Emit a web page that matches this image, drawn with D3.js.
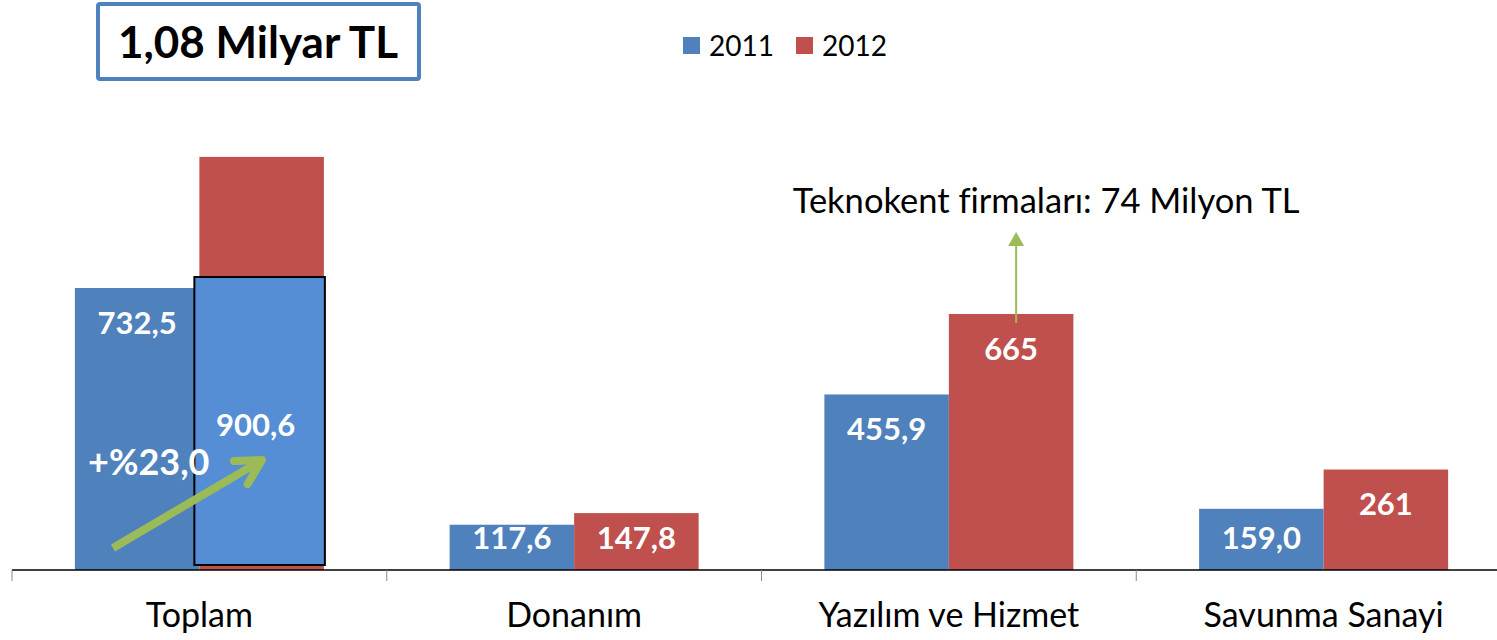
<!DOCTYPE html>
<html lang="tr">
<head>
<meta charset="UTF-8">
<title>Ar-Ge Harcamaları</title>
<script src="https://d3js.org/d3.v7.min.js"></script>
<style>
  body { margin: 0; background: #fff; }
  svg text { font-family: Lato, "Open Sans", sans-serif; }
</style>
</head>
<body>
<div id="chart"></div>
<script>
const categories = ["Toplam", "Donanım", "Yazılım ve Hizmet", "Savunma Sanayi"];
const years = ["2011", "2012"];
const values2011 = [732.5, 117.6, 455.9, 159.0];
const values2012 = [1073, 147.8, 665, 261];
const labels2011 = ["732,5", "117,6", "455,9", "159,0"];
const labels2012 = ["", "147,8", "665", "261"];
// highlighted part of the Toplam 2012 bar
const overlay = { label: "900,6", from: 13, to: 761 };
const title = "1,08 Milyar TL";
const growthLabel = "+%23,0";
const noteText = "Teknokent firmaları: 74 Milyon TL";

const colors = { "2011": "#4f81bd", "2012": "#c0504d" };

const W = 1497, H = 640;
const svg = d3.select("#chart").append("svg")
    .attr("width", W).attr("height", H);

const x = d3.scaleBand().domain(categories).range([12, 1511]).padding(0);
const barW = 124.5;
const y = d3.scaleLinear().domain([0, 1100]).range([570, 146.5]);

const rows = categories.map((c, i) => ({
  cat: c,
  bars: [
    { year: "2011", v: values2011[i], label: labels2011[i] },
    { year: "2012", v: values2012[i], label: labels2012[i] }
  ]
}));

const groups = svg.selectAll("g.cat").data(rows).join("g")
    .attr("class", "cat")
    .attr("transform", d => `translate(${x(d.cat) + x.bandwidth() / 2 - barW},0)`);

groups.selectAll("rect").data(d => d.bars).join("rect")
    .attr("x", (d, j) => j * barW)
    .attr("y", d => y(d.v))
    .attr("width", barW)
    .attr("height", d => y(0) - y(d.v))
    .attr("fill", d => colors[d.year]);

// overlay box on Toplam 2012
const ox = x("Toplam") + x.bandwidth() / 2 - 5;
svg.append("rect")
    .attr("x", ox)
    .attr("y", y(overlay.to))
    .attr("width", barW + 6)
    .attr("height", y(overlay.from) - y(overlay.to))
    .attr("fill", "#558ed5")
    .attr("stroke", "#000")
    .attr("stroke-width", 2);

groups.selectAll("text.val").data(d => d.bars).join("text")
    .attr("class", "val")
    .attr("x", (d, j) => j * barW + barW / 2)
    .attr("y", d => Math.min(y(d.v) + 35, y(0) - 32))
    .attr("dy", "0.35em")
    .attr("text-anchor", "middle")
    .attr("fill", "#fff")
    .attr("font-weight", "bold")
    .attr("font-size", 31)
    .text(d => d.label);

svg.append("text")
    .attr("x", ox + barW / 2 - 1)
    .attr("y", y(overlay.to) + 148)
    .attr("dy", "0.35em")
    .attr("text-anchor", "middle")
    .attr("fill", "#fff")
    .attr("font-weight", "bold")
    .attr("font-size", 31)
    .text(overlay.label);

// axis
const axisY = y(0);
svg.append("line")
    .attr("x1", 12).attr("x2", W)
    .attr("y1", axisY).attr("y2", axisY)
    .attr("stroke", "#000").attr("stroke-width", 1.3);
svg.selectAll("line.tick").data(categories).join("line")
    .attr("class", "tick")
    .attr("x1", d => x(d)).attr("x2", d => x(d))
    .attr("y1", axisY).attr("y2", axisY + 11)
    .attr("stroke", "#888");
svg.selectAll("text.cat").data(categories).join("text")
    .attr("class", "cat")
    .attr("x", d => x(d) + x.bandwidth() / 2)
    .attr("y", 615)
    .attr("dy", "0.35em")
    .attr("text-anchor", "middle")
    .attr("font-size", 34)
    .attr("fill", "#000")
    .text(d => d);

// growth arrow
const g1x = x("Toplam") + 101, g1y = y(0) - 22;
const g2x = x("Toplam") + 250, g2y = y(0) - 110;
svg.append("line")
    .attr("x1", g1x).attr("y1", g1y).attr("x2", g2x).attr("y2", g2y)
    .attr("stroke", "#9bbb59").attr("stroke-width", 8);
const ang = Math.atan2(g2y - g1y, g2x - g1x);
const head = 28;
svg.append("path")
    .attr("d", d3.line()([
      [g2x - head * Math.cos(ang - 0.5), g2y - head * Math.sin(ang - 0.5)],
      [g2x, g2y],
      [g2x - head * Math.cos(ang + 0.5), g2y - head * Math.sin(ang + 0.5)]
    ]))
    .attr("fill", "none")
    .attr("stroke", "#9bbb59").attr("stroke-width", 8)
    .attr("stroke-linecap", "round").attr("stroke-linejoin", "round");
svg.append("text")
    .attr("x", x("Toplam") + 76)
    .attr("y", 462)
    .attr("dy", "0.35em")
    .attr("fill", "#fff")
    .attr("font-weight", "bold")
    .attr("font-size", 36)
    .text(growthLabel);

// Teknokent note
const nx = x("Yazılım ve Hizmet") + x.bandwidth() / 2 + barW / 2 + 5;
svg.append("line")
    .attr("x1", nx).attr("x2", nx)
    .attr("y1", y(665) + 9).attr("y2", 244)
    .attr("stroke", "#9bbb59").attr("stroke-width", 2);
svg.append("path")
    .attr("d", d3.line()([[nx - 8, 246], [nx, 232], [nx + 8, 246]]))
    .attr("fill", "#9bbb59");
svg.append("text")
    .attr("x", nx + 30)
    .attr("y", 201)
    .attr("dy", "0.35em")
    .attr("text-anchor", "middle")
    .attr("font-size", 34.5)
    .attr("fill", "#000")
    .text(noteText);

// title box
svg.append("rect")
    .attr("x", 98).attr("y", 4).attr("width", 321).attr("height", 75)
    .attr("rx", 2)
    .attr("fill", "#fff").attr("stroke", "#4f81bd").attr("stroke-width", 4);
svg.append("text")
    .attr("x", 258).attr("y", 43)
    .attr("dy", "0.35em")
    .attr("text-anchor", "middle")
    .attr("font-weight", "bold")
    .attr("font-size", 44)
    .attr("fill", "#000")
    .text(title);

// legend
const legend = svg.selectAll("g.leg").data(years).join("g")
    .attr("class", "leg")
    .attr("transform", (d, i) => `translate(${683 + i * 113},37)`);
legend.append("rect")
    .attr("width", 17).attr("height", 17)
    .attr("fill", d => colors[d]);
legend.append("text")
    .attr("x", 26).attr("y", 9)
    .attr("dy", "0.35em")
    .attr("font-size", 28)
    .attr("fill", "#000")
    .text(d => d);
</script>
</body>
</html>
